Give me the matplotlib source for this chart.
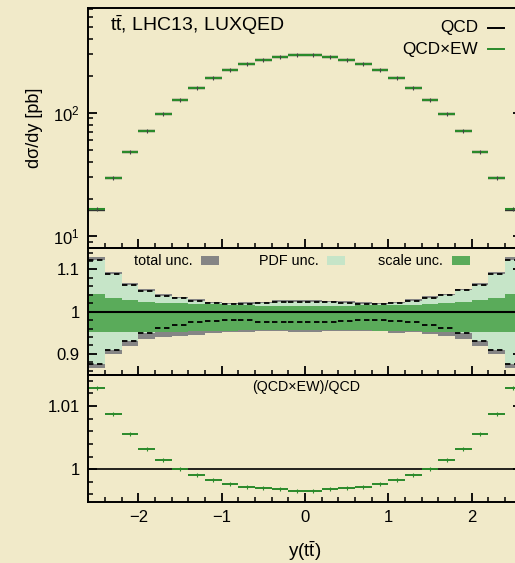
import numpy as np
import matplotlib
matplotlib.use('Agg')
import matplotlib.pyplot as plt
from matplotlib.patches import Rectangle
from matplotlib.ticker import MultipleLocator, LogLocator, FuncFormatter, NullFormatter

plt.rcParams['font.family'] = ['Liberation Sans', 'DejaVu Sans']
plt.rcParams['mathtext.fontset'] = 'custom'
plt.rcParams['mathtext.rm'] = 'Liberation Sans'
plt.rcParams['mathtext.it'] = 'Liberation Sans:italic'
plt.rcParams['mathtext.bf'] = 'Liberation Sans:bold'

# bin edges in y(ttbar)
edges = np.array([-2.6, -2.4, -2.2, -2.0, -1.8, -1.6, -1.4, -1.2, -1.0, -0.8, -0.6, -0.4, -0.2, 0.0,
                  0.2, 0.4, 0.6, 0.8, 1.0, 1.2, 1.4, 1.6, 1.8, 2.0, 2.2, 2.4, 2.6])

# d sigma / dy [pb], QCDxEW
xs_qcdew = np.array([16.4, 29.8, 47.9, 71.0, 98.0, 127.5, 158.8, 192.7, 221.0, 250.0, 268.0, 285.0, 293.0,
                     293.0, 285.0, 268.0, 250.0, 221.0, 192.7, 158.8, 127.5, 98.0, 71.0, 47.9, 29.8, 16.4])

# (QCDxEW)/QCD
ratio = np.array([1.01288, 1.00873, 1.00562, 1.00325, 1.00147, 1.00010, 0.99905, 0.99826, 0.99768, 0.99725,
                  0.99700, 0.99678, 0.99662, 0.99662, 0.99678, 0.99700, 0.99725, 0.99768, 0.99826, 0.99905,
                  1.00010, 1.00147, 1.00325, 1.00562, 1.00873, 1.01288])

xs_qcd = xs_qcdew / ratio

# relative uncertainty bands
total_hi = np.array([1.130, 1.093, 1.067, 1.054, 1.041, 1.0355, 1.030, 1.0237, 1.0213, 1.0221, 1.0237, 1.0269, 1.0269,
                     1.0269, 1.0261, 1.0245, 1.0221, 1.0213, 1.0237, 1.0300, 1.0379, 1.0427, 1.0545, 1.0679, 1.0948, 1.1303])
total_lo = np.array([0.866, 0.899, 0.918, 0.935, 0.939, 0.943, 0.9455, 0.950, 0.951, 0.9526, 0.955, 0.955, 0.952,
                     0.952, 0.9534, 0.9542, 0.9534, 0.9542, 0.9494, 0.9518, 0.9471, 0.9415, 0.9352, 0.9194, 0.8989, 0.8665])
pdf_hi = np.array([1.123, 1.088, 1.063, 1.048, 1.038, 1.0316, 1.025, 1.0205, 1.0182, 1.0182, 1.0205, 1.0237, 1.0237,
                   1.0237, 1.0221, 1.0205, 1.0182, 1.0182, 1.0205, 1.0261, 1.0324, 1.0387, 1.0506, 1.0640, 1.0885, 1.1232])
pdf_lo = np.array([0.876, 0.910, 0.931, 0.949, 0.961, 0.968, 0.975, 0.978, 0.980, 0.980, 0.976, 0.976, 0.9747,
                   0.9747, 0.9763, 0.9787, 0.9795, 0.9795, 0.9779, 0.9747, 0.9684, 0.9613, 0.9494, 0.9313, 0.9100, 0.8768])
scale_hi = np.array([1.042, 1.032, 1.028, 1.022, 1.0205, 1.0205, 1.018, 1.017, 1.016, 1.015, 1.014, 1.014, 1.014,
                     1.014, 1.014, 1.014, 1.015, 1.016, 1.016, 1.0166, 1.0182, 1.0205, 1.0221, 1.0276, 1.0316, 1.0419])
scale_lo = np.array([0.951, 0.951, 0.951, 0.951, 0.952, 0.953, 0.954, 0.955, 0.955, 0.956, 0.956, 0.957, 0.957,
                     0.957, 0.957, 0.956, 0.956, 0.955, 0.955, 0.954, 0.953, 0.952, 0.951, 0.951, 0.951, 0.951])

green = '#2a8a2a'
c_total = '#858585'
c_pdf = '#c6e5c8'
c_scale = '#5aab5a'
bg = '#f1eac9'

centers = 0.5 * (edges[:-1] + edges[1:])

fig = plt.figure(figsize=(5.15, 5.63), dpi=100, facecolor=bg)
ax1 = fig.add_axes([0.1715, 0.5590, 0.8414, 0.4268])
ax2 = fig.add_axes([0.1715, 0.3339, 0.8414, 0.2251])
ax3 = fig.add_axes([0.1715, 0.1089, 0.8414, 0.2250])

for ax in (ax1, ax2, ax3):
    ax.set_facecolor('none')
    ax.set_xlim(-2.6, 2.6)
    ax.xaxis.set_major_locator(MultipleLocator(1))
    ax.xaxis.set_minor_locator(MultipleLocator(0.2))
    ax.tick_params(which='both', direction='in', right=True, top=False, labelsize=12, pad=6, colors='black')
    ax.tick_params(which='major', length=6.5, width=1.3)
    ax.tick_params(which='minor', length=3.3, width=1.1)
    for s in ax.spines.values():
        s.set_linewidth(1.4)

# --- main panel
ax1.hlines(xs_qcd, edges[:-1], edges[1:], color='#333333', lw=1.7)
ax1.hlines(xs_qcdew, edges[:-1], edges[1:], color=green, lw=1.5)
ax1.plot(centers, xs_qcdew, ls='none', marker='|', ms=3, mew=0.8, color='#444444')
ax1.set_yscale('log')
ax1.set_ylim(7.94, 710)
ax1.yaxis.set_major_locator(LogLocator(base=10))
ax1.yaxis.set_minor_locator(LogLocator(base=10, subs=np.arange(2, 10)))
ax1.yaxis.set_minor_formatter(NullFormatter())
ax1.tick_params(labelbottom=False)
ax1.set_ylabel('dσ/dy [pb]', fontsize=13)
ax1.yaxis.set_label_coords(-0.105, 0.5)

ax1.text(0.050, 0.929, r'$\mathrm{t\bar{t}}$, LHC13, LUXQED', transform=ax1.transAxes,
         fontsize=14, ha='left', va='center')
ax1.text(0.899, 0.917, 'QCD', transform=ax1.transAxes, fontsize=12.3, ha='right', va='center')
ax1.plot([0.922, 0.959], [0.917, 0.917], transform=ax1.transAxes, color='black', lw=1.4, clip_on=False)
ax1.text(0.899, 0.829, 'QCD×EW', transform=ax1.transAxes, fontsize=12.3, ha='right', va='center')
ax1.plot([0.922, 0.959], [0.829, 0.829], transform=ax1.transAxes, color=green, lw=1.4, clip_on=False)

# --- uncertainty panel
def band(ax, lo, hi, color):
    ax.fill_between(edges, np.append(lo, lo[-1]), np.append(hi, hi[-1]), step='post',
                    color=color, lw=0)

band(ax2, total_lo, total_hi, c_total)
band(ax2, pdf_lo, pdf_hi, c_pdf)
band(ax2, scale_lo, scale_hi, c_scale)
ax2.hlines(pdf_hi, edges[:-1], edges[1:], colors='black', linestyles=(0, (3, 2)), lw=1.3)
ax2.hlines(pdf_lo, edges[:-1], edges[1:], colors='black', linestyles=(0, (3, 2)), lw=1.3)
ax2.axhline(1.0, color='black', lw=1.5)
ax2.set_ylim(0.85, 1.15)
ax2.yaxis.set_major_locator(MultipleLocator(0.1))
ax2.yaxis.set_minor_locator(MultipleLocator(0.02))
ax2.yaxis.set_major_formatter(FuncFormatter(lambda v, p: '%g' % round(v, 6)))
ax2.tick_params(labelbottom=False)

leg_items = [('total unc.', c_total, 0.241, 0.260),
             ('PDF unc.', c_pdf, 0.531, 0.550),
             ('scale unc.', c_scale, 0.819, 0.839)]
for lab, col, xt, xp in leg_items:
    ax2.text(xt, 0.902, lab, transform=ax2.transAxes, fontsize=10.4, ha='right', va='center')
    ax2.add_patch(Rectangle((xp, 0.868), 0.042, 0.068, transform=ax2.transAxes,
                            facecolor=col, edgecolor='none', clip_on=False))

# --- ratio panel
ax3.axhline(1.0, color='black', lw=1.2)
ax3.hlines(ratio, edges[:-1], edges[1:], color=green, lw=1.4)
ax3.plot(centers, ratio, ls='none', marker='|', ms=3, mew=0.8, color=green)
ax3.set_ylim(0.99485, 1.0149)
ax3.yaxis.set_major_locator(MultipleLocator(0.01))
ax3.yaxis.set_minor_locator(MultipleLocator(0.002))
ax3.yaxis.set_major_formatter(FuncFormatter(lambda v, p: '%g' % round(v, 6)))
ax3.text(0.502, 0.905, '(QCD×EW)/QCD', transform=ax3.transAxes, fontsize=10.3, ha='center', va='center')
ax3.set_xlabel(r'y($\mathrm{t\bar{t}}$)', fontsize=13.5)
ax3.xaxis.set_label_coords(0.5, -0.30)

fig.savefig('out.png', dpi=100, facecolor=bg)
